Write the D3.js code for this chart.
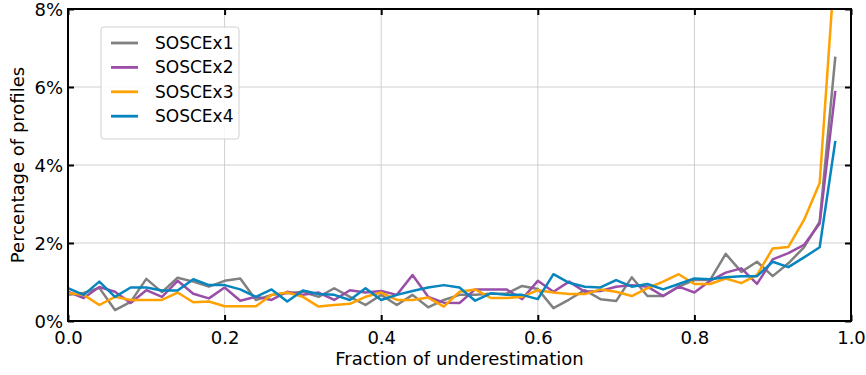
<!DOCTYPE html>
<html>
<head>
<meta charset="utf-8">
<script src="https://cdn.jsdelivr.net/npm/d3@7"></script>
<style>
  body { margin: 0; background: #fff; }
  svg text { font-family: "DejaVu Sans", sans-serif; }
</style>
</head>
<body>
<div class="chart"></div>
<script>
// fraction of underestimation, 0.00 .. 0.98 step 0.02
var fractions = d3.range(50).map(function(i){ return +(i * 0.02).toFixed(2); });

var seriesNames = ["SOSCEx1", "SOSCEx2", "SOSCEx3", "SOSCEx4"];
var seriesColors = ["#808080", "#9a4ea8", "#ffa100", "#0685be"];

var sosceX1 = [0.67, 0.72, 0.85, 0.28, 0.49, 1.08, 0.74, 1.11, 1.01, 0.88,
               1.03, 1.09, 0.54, 0.67, 0.71, 0.75, 0.62, 0.84, 0.62, 0.41,
               0.67, 0.41, 0.67, 0.35, 0.54, 0.67, 0.67, 0.70, 0.70, 0.90,
               0.82, 0.33, 0.55, 0.79, 0.56, 0.51, 1.12, 0.64, 0.64, 0.88,
               1.05, 1.05, 1.72, 1.26, 1.52, 1.15, 1.48, 1.89, 2.55, 6.78];
var sosceX2 = [0.75, 0.59, 0.87, 0.75, 0.46, 0.79, 0.62, 1.03, 0.70, 0.58,
               0.86, 0.52, 0.62, 0.54, 0.75, 0.67, 0.73, 0.54, 0.79, 0.73,
               0.77, 0.67, 1.18, 0.62, 0.47, 0.46, 0.81, 0.81, 0.81, 0.56,
               1.03, 0.75, 1.01, 0.75, 0.77, 0.88, 0.92, 0.88, 0.64, 0.88,
               0.73, 1.03, 1.24, 1.35, 0.95, 1.58, 1.74, 1.95, 2.50, 5.90];
var sosceX3 = [0.72, 0.67, 0.41, 0.62, 0.54, 0.54, 0.54, 0.73, 0.48, 0.50,
               0.38, 0.38, 0.38, 0.67, 0.73, 0.62, 0.37, 0.41, 0.44, 0.62,
               0.73, 0.54, 0.54, 0.60, 0.37, 0.75, 0.81, 0.59, 0.59, 0.62,
               0.79, 0.73, 0.69, 0.69, 0.81, 0.75, 0.64, 0.84, 1.01, 1.20,
               0.95, 0.95, 1.09, 0.97, 1.18, 1.86, 1.90, 2.59, 3.54, 9.30];
var sosceX4 = [0.84, 0.67, 1.01, 0.62, 0.86, 0.86, 0.78, 0.78, 1.07, 0.92,
               0.92, 0.81, 0.62, 0.81, 0.50, 0.78, 0.69, 0.67, 0.54, 0.84,
               0.54, 0.67, 0.77, 0.86, 0.92, 0.86, 0.52, 0.71, 0.67, 0.67,
               0.56, 1.20, 0.98, 0.88, 0.86, 1.05, 0.88, 0.95, 0.81, 0.95,
               1.09, 1.07, 1.12, 1.15, 1.15, 1.52, 1.38, 1.63, 1.89, 4.62];
var allSeries = [sosceX1, sosceX2, sosceX3, sosceX4];

var xTicks = [0, 0.2, 0.4, 0.6, 0.8, 1.0];
var yTicks = [0, 2, 4, 6, 8];

var width = 866, height = 375;
var margin = {top: 9, right: 15, bottom: 54, left: 68};
var plotW = width - margin.left - margin.right;
var plotH = height - margin.top - margin.bottom;

var svg = d3.select(".chart").append("svg")
    .attr("width", width)
    .attr("height", height);

var g = svg.append("g").attr("transform", "translate(" + margin.left + "," + margin.top + ")");

var x = d3.scaleLinear().domain([0, 1]).range([0, plotW]);
var y = d3.scaleLinear().domain([0, 8]).range([plotH, 0]);

// grid
g.selectAll(".vgrid").data(xTicks.slice(1, -1)).enter().append("line")
    .attr("x1", function(d){ return x(d); }).attr("x2", function(d){ return x(d); })
    .attr("y1", 0).attr("y2", plotH)
    .style("stroke", "#cfcfcf").style("stroke-width", 1);
g.selectAll(".hgrid").data(yTicks.slice(1, -1)).enter().append("line")
    .attr("y1", function(d){ return y(d); }).attr("y2", function(d){ return y(d); })
    .attr("x1", 0).attr("x2", plotW)
    .style("stroke", "#cfcfcf").style("stroke-width", 1);

g.append("clipPath").attr("id", "plotclip")
    .append("rect").attr("width", plotW).attr("height", plotH);

var line = d3.line()
    .x(function(d, i){ return x(fractions[i]); })
    .y(function(d){ return y(d); });

g.append("g").attr("clip-path", "url(#plotclip)")
    .selectAll("path").data(allSeries).enter().append("path")
    .attr("d", line)
    .style("fill", "none")
    .style("stroke", function(d, i){ return seriesColors[i]; })
    .style("stroke-width", 2.5)
    .style("stroke-linejoin", "round");

// axes, ticks pointing inward
var fmtX = d3.format(".1f");
var fmtY = function(d){ return d + "%"; };

var xBottom = g.append("g").attr("transform", "translate(0," + plotH + ")")
    .call(d3.axisBottom(x).tickValues(xTicks).tickFormat(fmtX).tickSizeInner(-6).tickSizeOuter(0).tickPadding(10));
var xTop = g.append("g")
    .call(d3.axisTop(x).tickValues(xTicks).tickFormat("").tickSizeInner(-6).tickSizeOuter(0));
var yLeft = g.append("g")
    .call(d3.axisLeft(y).tickValues(yTicks).tickFormat(fmtY).tickSizeInner(-6).tickSizeOuter(0).tickPadding(5));
var yRight = g.append("g").attr("transform", "translate(" + plotW + ",0)")
    .call(d3.axisRight(y).tickValues(yTicks).tickFormat("").tickSizeInner(-6).tickSizeOuter(0));

[xBottom, xTop, yLeft, yRight].forEach(function(a){
    a.select(".domain").remove();
    a.selectAll(".tick line").style("stroke", "#000").style("stroke-width", 2);
    a.selectAll("text").style("font-size", "18px").style("fill", "#000")
        .style("font-family", "'DejaVu Sans', sans-serif");
});
yLeft.selectAll(".tick text").attr("dy", "0.35em");

// frame
g.append("rect").attr("width", plotW).attr("height", plotH)
    .style("fill", "none").style("stroke", "#000").style("stroke-width", 2);

// axis labels
svg.append("text")
    .attr("x", margin.left + plotW / 2).attr("y", 365)
    .attr("text-anchor", "middle")
    .style("font-size", "18px")
    .text("Fraction of underestimation");
svg.append("text")
    .attr("transform", "translate(24," + (margin.top + plotH / 2) + ") rotate(-90)")
    .attr("text-anchor", "middle")
    .style("font-size", "18px")
    .text("Percentage of profiles");

// legend
var legend = g.append("g").attr("transform", "translate(33,18)");
legend.append("rect")
    .attr("width", 138).attr("height", 112).attr("rx", 3)
    .style("fill", "#fff").style("fill-opacity", 0.85)
    .style("stroke", "#d0d0d0").style("stroke-width", 1);
var items = legend.selectAll(".item").data(seriesNames).enter().append("g")
    .attr("transform", function(d, i){ return "translate(10," + (16 + i * 24.4) + ")"; });
items.append("line")
    .attr("x1", 0).attr("x2", 27)
    .style("stroke", function(d, i){ return seriesColors[i]; })
    .style("stroke-width", 2.8);
items.append("text")
    .attr("x", 44).attr("dy", "0.35em")
    .style("font-size", "17px")
    .text(function(d){ return d; });
</script>
</body>
</html>
